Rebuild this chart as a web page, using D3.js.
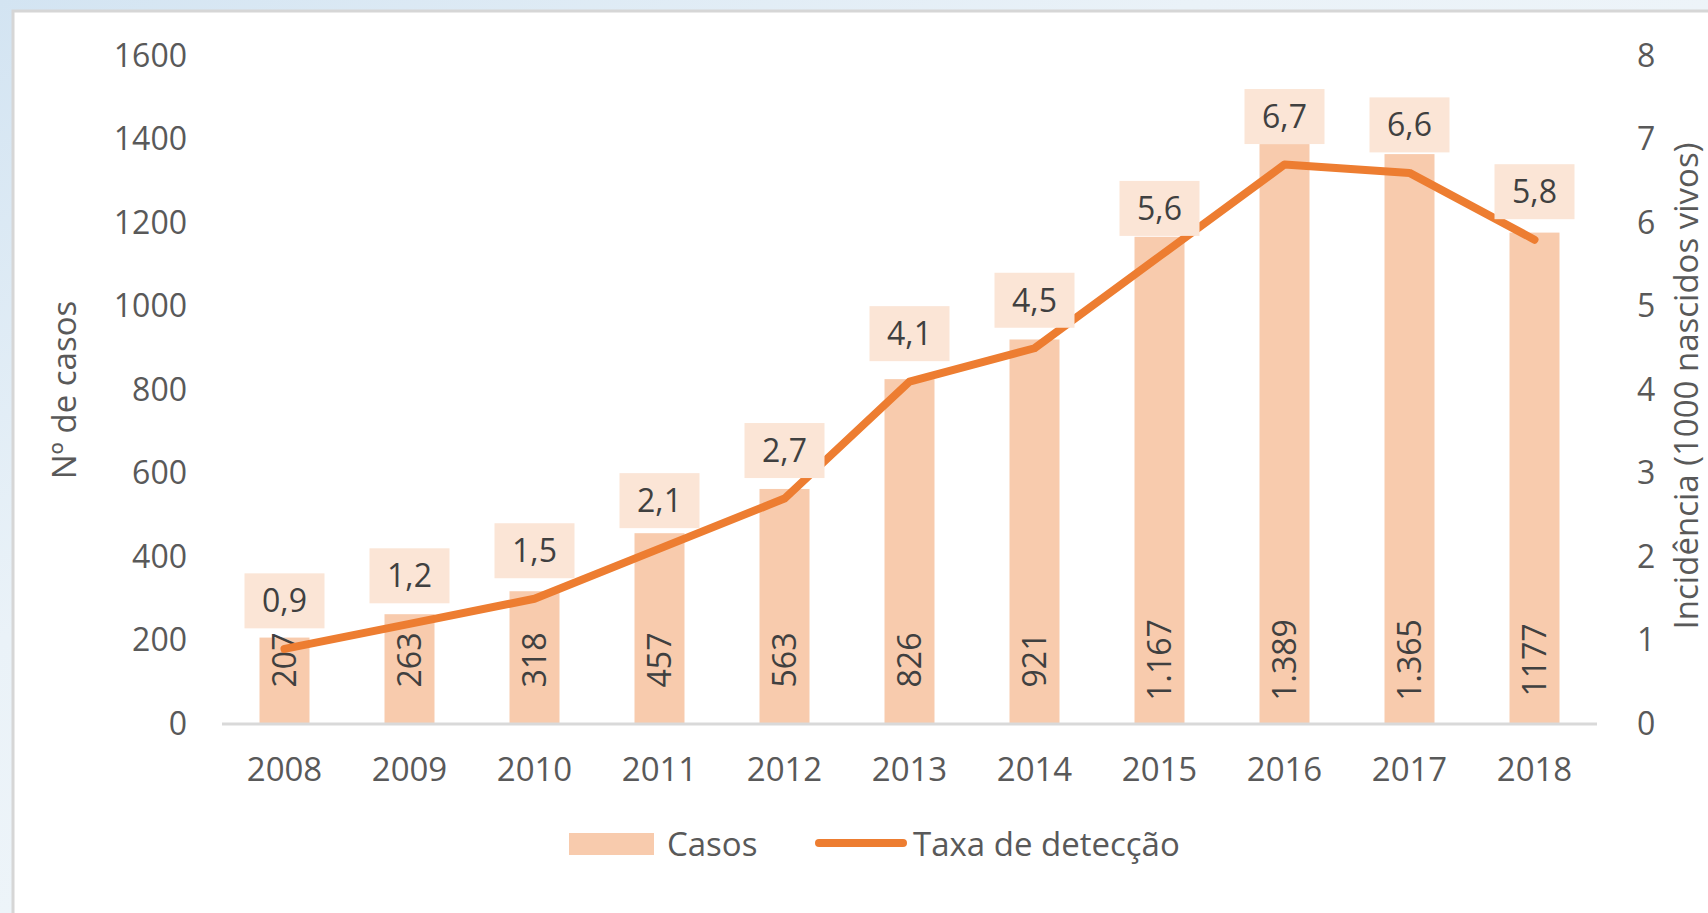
<!DOCTYPE html>
<html>
<head>
<meta charset="utf-8">
<script src="https://cdn.jsdelivr.net/npm/d3@7"></script>
<style>
  html, body { margin: 0; padding: 0; overflow: hidden; background: #fff; }
  svg { display: block; font-family: 'Open Sans', sans-serif; }
</style>
</head>
<body>
<svg id="chart" width="1708" height="913"></svg>
<script>
const years = ['2008', '2009', '2010', '2011', '2012', '2013', '2014', '2015', '2016', '2017', '2018'];
const casos = [207, 263, 318, 457, 563, 826, 921, 1167, 1389, 1365, 1177];
const casosLabels = ['207', '263', '318', '457', '563', '826', '921', '1.167', '1.389', '1.365', '1177'];
const taxa = [0.9, 1.2, 1.5, 2.1, 2.7, 4.1, 4.5, 5.6, 6.7, 6.6, 5.8];
const leftTicks = [0, 200, 400, 600, 800, 1000, 1200, 1400, 1600];
const rightTicks = [0, 1, 2, 3, 4, 5, 6, 7, 8];

const W = 1708, H = 913;
const margin = { top: 56, right: 111, bottom: 189, left: 222 };
const plotW = W - margin.left - margin.right;
const plotH = H - margin.top - margin.bottom;

const svg = d3.select('#chart');

// soft blue frame behind the white panel
const defs = svg.append('defs');
const grad = defs.append('linearGradient')
  .attr('id', 'bg').attr('x1', 0).attr('y1', 0).attr('x2', 1).attr('y2', 1);
grad.append('stop').attr('offset', '0%').attr('stop-color', '#d3e4f2');
grad.append('stop').attr('offset', '35%').attr('stop-color', '#eaf2f8');
grad.append('stop').attr('offset', '100%').attr('stop-color', '#f7fafc');
svg.append('rect').attr('width', W).attr('height', H).attr('fill', 'url(#bg)');
svg.append('rect')
  .attr('x', 13).attr('y', 11).attr('width', W).attr('height', H)
  .attr('fill', '#fff').attr('stroke', '#d6d6d6').attr('stroke-width', 3);

const g = svg.append('g').attr('transform', `translate(${margin.left},${margin.top})`);

const x = d3.scaleBand()
  .domain(years)
  .range([0, plotW])
  .paddingInner(0.6)
  .paddingOuter(0.3);

const yL = d3.scaleLinear().domain([0, 1600]).range([plotH, 0]);
const yR = d3.scaleLinear().domain([0, 8]).range([plotH, 0]);

// bars
g.selectAll('.bar')
  .data(casos)
  .enter().append('rect')
  .attr('class', 'bar')
  .attr('x', (d, i) => x(years[i]))
  .attr('width', x.bandwidth())
  .attr('y', d => yL(d))
  .attr('height', d => plotH - yL(d))
  .attr('fill', '#F8CBAD');

// baseline
g.append('line')
  .attr('x1', 0).attr('x2', plotW)
  .attr('y1', plotH).attr('y2', plotH)
  .attr('stroke', '#d9d9d9').attr('stroke-width', 3);

// bar value labels (rotated, inside base)
g.selectAll('.bar-label')
  .data(casosLabels)
  .enter().append('text')
  .attr('class', 'bar-label')
  .attr('transform', (d, i) => `translate(${x(years[i]) + x.bandwidth() / 2},${plotH - 64}) rotate(-90)`)
  .attr('text-anchor', 'middle')
  .attr('dy', '0.36em')
  .attr('font-size', 32)
  .attr('fill', '#404040')
  .text(d => d);

// line
const line = d3.line()
  .x((d, i) => x(years[i]) + x.bandwidth() / 2)
  .y(d => yR(d));

g.append('path')
  .datum(taxa)
  .attr('fill', 'none')
  .attr('stroke', '#ED7D31')
  .attr('stroke-width', 8)
  .attr('stroke-linejoin', 'round')
  .attr('stroke-linecap', 'round')
  .attr('d', line);

// line value labels in boxes
const fmt = v => d3.format('.1f')(v).replace('.', ',');
const lbl = g.selectAll('.taxa-label')
  .data(taxa)
  .enter().append('g')
  .attr('class', 'taxa-label')
  .attr('transform', (d, i) => `translate(${x(years[i]) + x.bandwidth() / 2},${yR(d) - 48})`);
lbl.append('rect')
  .attr('x', -40).attr('y', -27.5)
  .attr('width', 80).attr('height', 55)
  .attr('fill', '#FBE5D6');
lbl.append('text')
  .attr('text-anchor', 'middle')
  .attr('dy', '0.36em')
  .attr('font-size', 32)
  .attr('fill', '#404040')
  .text(d => fmt(d));

// left axis
const axisL = g.append('g').call(d3.axisLeft(yL).tickValues(leftTicks).tickFormat(d3.format('d')).tickSize(0).tickPadding(35));
axisL.select('.domain').remove();
axisL.selectAll('text').attr('font-size', 32).attr('font-family', 'Open Sans').attr('fill', '#595959');

// right axis
const axisR = g.append('g').attr('transform', `translate(${plotW},0)`)
  .call(d3.axisRight(yR).tickValues(rightTicks).tickSize(0).tickPadding(40));
axisR.select('.domain').remove();
axisR.selectAll('text').attr('font-size', 32).attr('font-family', 'Open Sans').attr('fill', '#595959');

// bottom axis
const axisB = g.append('g').attr('transform', `translate(0,${plotH})`)
  .call(d3.axisBottom(x).tickSize(0).tickPadding(34));
axisB.select('.domain').remove();
axisB.selectAll('text').attr('font-size', 33).attr('font-family', 'Open Sans').attr('fill', '#595959');

// axis titles
svg.append('text')
  .attr('transform', `translate(76,390) rotate(-90)`)
  .attr('text-anchor', 'middle')
  .attr('font-size', 33)
  .attr('fill', '#595959')
  .text('Nº de casos');

svg.append('text')
  .attr('transform', `translate(1698,386) rotate(-90)`)
  .attr('text-anchor', 'middle')
  .attr('font-size', 33)
  .attr('fill', '#595959')
  .text('Incidência (1000 nascidos vivos)');

// legend
const legend = svg.append('g');
legend.append('rect')
  .attr('x', 569).attr('y', 833).attr('width', 85).attr('height', 22)
  .attr('fill', '#F8CBAD');
legend.append('text')
  .attr('x', 667).attr('y', 844).attr('dy', '0.36em')
  .attr('font-size', 33).attr('fill', '#595959')
  .text('Casos');
legend.append('line')
  .attr('x1', 819).attr('x2', 903).attr('y1', 843).attr('y2', 843)
  .attr('stroke', '#ED7D31').attr('stroke-width', 8).attr('stroke-linecap', 'round');
legend.append('text')
  .attr('x', 913).attr('y', 844).attr('dy', '0.36em')
  .attr('font-size', 33).attr('fill', '#595959')
  .text('Taxa de detecção');
</script>
</body>
</html>
